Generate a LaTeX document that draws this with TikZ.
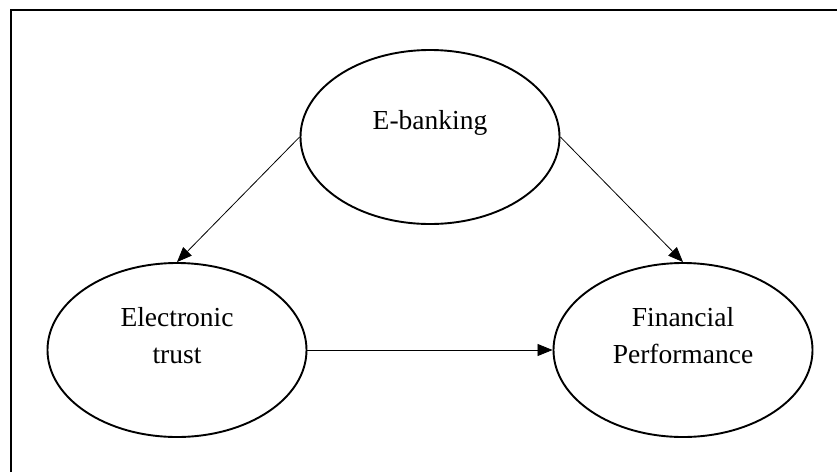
\documentclass[tikz,border=0pt]{standalone}
\usepackage{fontspec}
\setmainfont{Liberation Serif}
\usepackage{tikz}
\usetikzlibrary{shapes, arrows.meta, calc, positioning}

\begin{document}
\begin{tikzpicture}[x=1pt, y=-1pt,
    varbox/.style={ellipse, draw, line width=1.9pt, minimum width=259pt, minimum height=174pt, inner sep=0pt},
    vartext/.style={align=center, font=\fontsize{27.5}{37}\selectfont, inner sep=0pt},
    link/.style={line width=0.8pt, -{Triangle[length=15pt, width=12pt]}}]
    \useasboundingbox (0,0) rectangle (837,472);

    % Frame
    \draw[line width=1.2pt] (11,472) -- (11,10) -- (837,10);

    % Variables
    \node[varbox] (ebank) at (430,137) {};
    \node[varbox] (etrust) at (177,350) {};
    \node[varbox] (finperf) at (683,350) {};

    % Labels inside the ellipses
    \node[vartext] (ebanklabel) at ($(ebank.center) + (0,-14)$) {E-banking};
    \node[vartext] (etrustlabel) at ($(etrust.center) + (0,-14)$) {Electronic\\trust};
    \node[vartext] (finperflabel) at ($(finperf.center) + (0,-14)$) {Financial\\Performance};

    % Paths
    \draw[link] (ebank.west) -- (etrust.north);
    \draw[link] (ebank.east) -- (finperf.north);
    \draw[link] (etrust.east) -- (finperf.west);

\end{tikzpicture}
\end{document}
